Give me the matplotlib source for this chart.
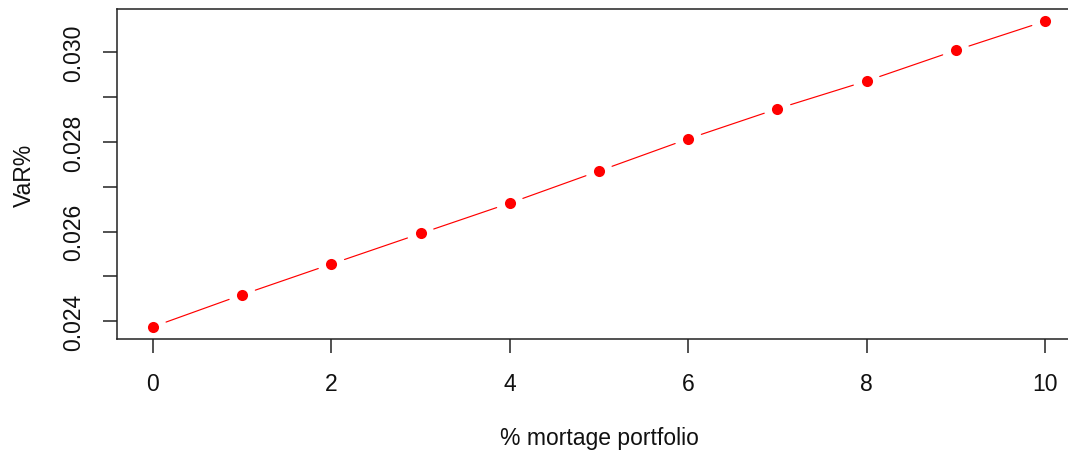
import matplotlib
matplotlib.use("Agg")
import matplotlib.pyplot as plt
import numpy as np

plt.rcParams['font.family'] = ['Liberation Sans', 'DejaVu Sans']

# share of mortgage portfolio (%) and resulting VaR
mortgage_pct = [0, 1, 2, 3, 4, 5, 6, 7, 8, 9, 10]
var_pct = [0.023875, 0.024591, 0.025276, 0.025957, 0.026635, 0.027351,
           0.028070, 0.028740, 0.029360, 0.030044, 0.030694]
x_ticks = [0, 2, 4, 6, 8, 10]
y_ticks = [0.024, 0.025, 0.026, 0.027, 0.028, 0.029, 0.030]
y_tick_labels = ["0.024", "", "0.026", "", "0.028", "", "0.030"]

W, H = 1068, 452
fig = plt.figure(figsize=(W / 100, H / 100), dpi=100)
left, right, top, bottom = 117.3, 1080.7, 10, 340
ax = fig.add_axes([left / W, 1 - bottom / H, (right - left) / W, (bottom - top) / H])

# base-graphics style: points joined by segments that stop short of each point
ax.plot(mortgage_pct, var_pct, linestyle='none', marker='o', color='red',
        markersize=8, markeredgewidth=0)
for i in range(len(mortgage_pct) - 1):
    ax.annotate('', xy=(mortgage_pct[i + 1], var_pct[i + 1]),
                xytext=(mortgage_pct[i], var_pct[i]),
                arrowprops=dict(arrowstyle='-', color='red', lw=0.85,
                                shrinkA=10, shrinkB=10))

span = max(var_pct) - min(var_pct)
ax.set_ylim(min(var_pct) - 0.04 * span, max(var_pct) + 0.04 * span)
xspan = max(mortgage_pct) - min(mortgage_pct)
ax.set_xlim(min(mortgage_pct) - 0.04 * xspan, max(mortgage_pct) + 0.04 * xspan)

ax.set_xticks(x_ticks)
ax.set_xticklabels([str(t) for t in x_ticks])
ax.set_yticks(y_ticks)
ax.set_yticklabels(y_tick_labels, rotation=90, va='center')

for s in ax.spines.values():
    s.set_color('#222222')
    s.set_linewidth(1.1)
ax.tick_params(axis='both', direction='out', length=10, width=1.1,
               color='#222222', labelsize=16.5, labelcolor='#111111')
ax.tick_params(axis='x', pad=14)
ax.tick_params(axis='y', pad=13)

ax.set_xlabel('% mortage portfolio', fontsize=16.5, color='#111111', labelpad=22)
ax.set_ylabel('VaR%', fontsize=16.5, color='#111111', labelpad=19)

fig.savefig('out.png', dpi=100)
